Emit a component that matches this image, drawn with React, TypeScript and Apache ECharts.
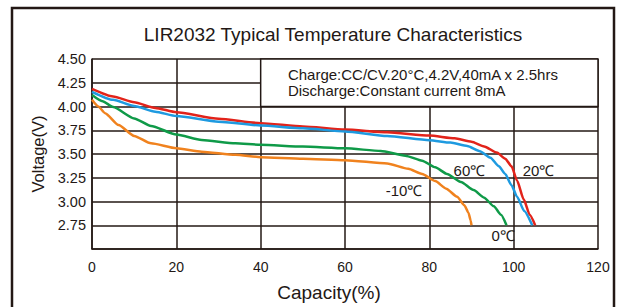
import React, { useEffect, useRef } from "react";
import * as echarts from "echarts";

const title = "LIR2032 Typical Temperature Characteristics";
const xName = "Capacity(%)";
const yName = "Voltage(V)";
const noteLines = ["Charge:CC/CV.20\u00B0C,4.2V,40mA x 2.5hrs", "Discharge:Constant current 8mA"];

const red20: [number, number][] = [
  [0, 4.185], [5, 4.105], [10, 4.045], [15, 3.985], [20, 3.94], [30, 3.872], [40, 3.825], [50, 3.79],
  [60, 3.758], [70, 3.728], [80, 3.695], [86, 3.665], [90, 3.63], [93, 3.58], [96, 3.515], [98, 3.45],
  [99.5, 3.37], [100.8, 3.22], [102.4, 3.02], [103.8, 2.86], [105.1, 2.75],
];
const blue60: [number, number][] = [
  [0, 4.155], [5, 4.07], [10, 4.005], [15, 3.945], [20, 3.9], [30, 3.84], [40, 3.8], [50, 3.77],
  [60, 3.738], [70, 3.69], [80, 3.645], [85, 3.62], [89, 3.585], [92, 3.53], [94.5, 3.46], [96.5, 3.37],
  [98, 3.29], [99.5, 3.17], [100.8, 3.05], [102.5, 2.9], [104.4, 2.75],
];
const green0: [number, number][] = [
  [0, 4.12], [2.5, 4.055], [5, 3.995], [10, 3.875], [14, 3.795], [20, 3.705], [26, 3.648], [34, 3.612],
  [40, 3.597], [50, 3.578], [60, 3.56], [68.5, 3.532], [74.3, 3.482], [78.3, 3.43], [81.4, 3.36],
  [84.2, 3.29], [87.5, 3.205], [90.5, 3.12], [93, 3.04], [95.3, 2.95], [97, 2.86], [98.3, 2.75],
];
const orangeM10: [number, number][] = [
  [0, 4.07], [1.5, 4.0], [3.1, 3.93], [6.3, 3.805], [10, 3.69], [14, 3.612], [20, 3.56], [26, 3.525],
  [34, 3.492], [40, 3.467], [50, 3.45], [60, 3.435], [70, 3.4], [75, 3.345], [78.3, 3.29], [81.4, 3.215],
  [84, 3.135], [86.6, 3.05], [88.3, 2.96], [89.3, 2.88], [89.8, 2.8], [90, 2.75],
];

const seriesNames = ["20\u2103", "60\u2103", "0\u2103", "-10\u2103"];
const seriesColors = ["#e2231a", "#1e9ae0", "#0f9a48", "#f0821e"];
const seriesData = [red20, blue60, green0, orangeM10];
const labelAnchors: [number, number][] = [[105.9, 3.33], [89.5, 3.33], [97.5, 2.64], [74.0, 3.115]];

const ink = "#231815";
const font = "'Liberation Sans', Arial, sans-serif";

export default function App() {
  const ref = useRef<HTMLDivElement>(null);
  useEffect(() => {
    if (!ref.current) return;
    const chart = echarts.init(ref.current, undefined, { renderer: "svg" });
    const series: any[] = seriesData.map((d, i) => ({
      name: seriesNames[i],
      type: "line",
      data: d,
      smooth: 0.2,
      smoothMonotone: "x",
      symbol: "none",
      lineStyle: { color: seriesColors[i], width: 2.5 },
      z: 3,
      markPoint: {
        symbol: "circle",
        symbolSize: 0,
        data: [{ coord: labelAnchors[i], value: seriesNames[i] }],
        label: { show: true, position: "inside", formatter: seriesNames[i], color: ink, fontSize: 15, fontFamily: font },
      },
    }));
    series.push({
      type: "line",
      data: [],
      markArea: {
        silent: true,
        itemStyle: { color: "#ffffff", borderColor: ink, borderWidth: 1.5 },
        label: {
          show: true,
          position: "insideLeft",
          distance: 28,
          formatter: noteLines.join("\n"),
          color: ink,
          fontSize: 15,
          lineHeight: 16,
          fontFamily: font,
        },
        data: [[{ coord: [40, 4.5] }, { coord: [120, 4.0] }]],
      },
      z: 2,
    });
    chart.setOption({
      animation: false,
      backgroundColor: "#ffffff",
      textStyle: { fontFamily: font },
      title: {
        text: title,
        left: 328,
        top: 20,
        textAlign: "center",
        textStyle: { fontSize: 19, fontWeight: "normal", color: ink, fontFamily: font },
      },
      graphic: [
        { type: "rect", shape: { x: 12, y: 8, width: 602, height: 320 }, style: { fill: "none", stroke: ink, lineWidth: 2.5 }, z: 10 },
      ],
      grid: { left: 92, right: 29, top: 59, bottom: 53 },
      xAxis: {
        type: "value",
        min: 0,
        max: 120,
        interval: 20,
        name: xName,
        nameLocation: "middle",
        nameGap: 34,
        nameTextStyle: { fontSize: 19, color: ink, fontFamily: font, padding: [0, 32, 0, 0] },
        axisLine: { show: true, lineStyle: { color: ink, width: 1.5 } },
        axisTick: { show: false },
        axisLabel: { margin: 11, fontSize: 14, color: ink, fontFamily: font },
        splitLine: { show: true, lineStyle: { color: ink, width: 1.5 } },
      },
      yAxis: {
        type: "value",
        min: 2.5,
        max: 4.5,
        interval: 0.25,
        name: yName,
        nameLocation: "middle",
        nameGap: 46,
        nameTextStyle: { fontSize: 16.5, color: ink, fontFamily: font },
        axisLine: { show: true, lineStyle: { color: ink, width: 1.5 } },
        axisTick: { show: false },
        axisLabel: {
          margin: 6,
          fontSize: 14.5,
          color: ink,
          fontFamily: font,
          formatter: (v: number) => (Math.abs(v - 2.5) < 1e-6 ? "" : v.toFixed(2)),
        },
        splitLine: { show: true, lineStyle: { color: ink, width: 1.5 } },
      },
      series,
    });
    return () => chart.dispose();
  }, []);
  return <div ref={ref} style={{ width: 627, height: 307, position: "absolute", left: 0, top: 0 }} />;
}
